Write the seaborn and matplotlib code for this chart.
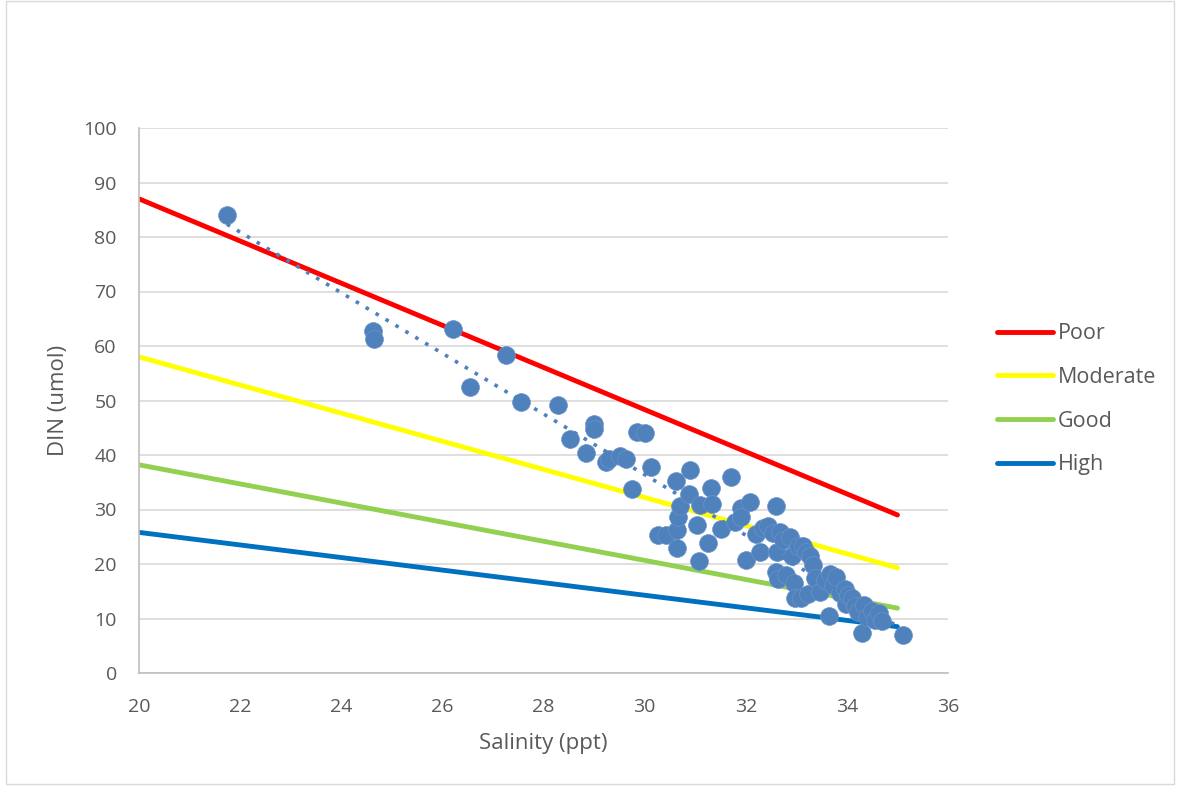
import numpy as np
import pandas as pd
import matplotlib
matplotlib.use("Agg")
import matplotlib.pyplot as plt
import seaborn as sns

salinity = [21.74, 24.63, 24.65, 26.21, 26.55, 27.26, 27.56, 28.29, 28.52, 28.84,
            29.00, 29.00, 29.24, 29.30, 29.51, 29.63, 29.75, 29.85, 30.01, 30.13,
            30.27, 30.42, 30.62, 30.64, 30.64, 30.66, 30.70, 30.88, 30.90, 31.04,
            31.08, 31.10, 31.25, 31.31, 31.33, 31.51, 31.71, 31.79, 31.90, 31.90,
            32.00, 32.08, 32.20, 32.28, 32.34, 32.44, 32.54, 32.60, 32.62, 32.60,
            32.64, 32.68, 32.74, 32.80, 32.88, 32.92, 32.96, 32.98, 33.03, 33.09,
            33.13, 33.19, 33.27, 33.33, 33.23, 33.37, 33.47, 33.57, 33.65, 33.67,
            33.73, 33.79, 33.86, 33.96, 33.98, 34.02, 34.10, 34.16, 34.22, 34.30,
            34.34, 34.40, 34.50, 34.56, 34.64, 34.70, 35.11]
din = [84.0, 62.7, 61.3, 63.1, 52.5, 58.3, 49.7, 49.2, 42.9, 40.4,
       45.7, 44.8, 38.7, 39.3, 39.8, 39.3, 33.8, 44.2, 44.0, 37.8,
       25.3, 25.3, 35.2, 22.9, 26.2, 28.6, 30.6, 32.8, 37.2, 27.2,
       20.6, 30.8, 23.9, 33.9, 31.0, 26.4, 36.0, 27.7, 30.3, 28.6,
       20.7, 31.4, 25.5, 22.2, 26.6, 27.0, 25.7, 30.6, 22.2, 18.5,
       17.2, 25.9, 24.4, 18.0, 25.0, 21.5, 16.5, 13.8, 23.3, 13.8,
       23.3, 22.2, 21.5, 19.8, 14.5, 17.4, 14.9, 17.1, 10.5, 18.2,
       16.1, 17.6, 14.7, 15.4, 12.7, 14.3, 13.8, 12.3, 11.2, 7.3,
       12.5, 10.3, 11.4, 9.7, 11.0, 9.5, 7.0]

line_x = [20, 35]
poor = [87.0, 29.0]
moderate = [58.0, 19.3]
good = [38.2, 11.9]
high = [25.8, 8.5]

categories = ["Poor", "Moderate", "Good", "High"]
cat_colors = ["#FF0000", "#FFFF00", "#92D050", "#0070C0"]

sns.set_theme(style="white")
plt.rcParams['font.family'] = ['Open Sans', 'DejaVu Sans']

fig = plt.figure(figsize=(11.78, 7.87), dpi=100)
ax = fig.add_axes([139/1178, 1 - 673/787, (948-139)/1178, (673-128)/787])

lines_df = pd.DataFrame({
    "x": line_x * 4,
    "y": poor + moderate + good + high,
    "cat": [c for c in categories for _ in line_x],
})
sns.lineplot(data=lines_df, x="x", y="y", hue="cat", palette=dict(zip(categories, cat_colors)),
             hue_order=categories, linewidth=3.5, ax=ax, zorder=2, legend=True)

pts = pd.DataFrame({"Salinity": salinity, "DIN": din})
sns.scatterplot(data=pts, x="Salinity", y="DIN", color="#4F81BD", s=165, edgecolor="#6A93C8",
                linewidth=0.5, ax=ax, zorder=4, legend=False)
sns.regplot(data=pts, x="Salinity", y="DIN", scatter=False, ci=None, ax=ax,
            line_kws=dict(color="#4F81BD", linestyle=(0, (1, 2.2)), linewidth=2.6, zorder=5))

ax.set_xlim(20, 36)
ax.set_ylim(0, 100)
ax.set_xticks(np.arange(20, 37, 2))
ax.set_yticks(np.arange(0, 101, 10))
ax.grid(axis="y", color="#D9D9D9", linewidth=1.2)
ax.set_axisbelow(True)
for s in ["top", "right"]:
    ax.spines[s].set_visible(False)
for s in ["bottom", "left"]:
    ax.spines[s].set_color("#BFBFBF")
    ax.spines[s].set_linewidth(1.2)
ax.tick_params(axis="both", colors="#595959", labelsize=14, length=0)
ax.tick_params(axis="y", pad=16)
ax.tick_params(axis="x", pad=18)
ax.set_xlabel("Salinity (ppt)", color="#595959", fontsize=16, labelpad=12)
ax.set_ylabel("DIN (umol)", color="#595959", fontsize=16, labelpad=10)

leg = ax.legend(loc="upper left", bbox_to_anchor=(978/1178, 1 - 304/787), bbox_transform=fig.transFigure,
                frameon=False, fontsize=15.5, labelspacing=1.05, handlelength=2.6, handletextpad=0.2,
                labelcolor="#595959")
for h in leg.get_lines():
    h.set_linewidth(3.5)

fig.patches.append(plt.Rectangle((6/1178, 3/787), 1168/1178, 783/787, transform=fig.transFigure,
                                 fill=False, edgecolor="#D9D9D9", linewidth=1))

fig.savefig("out.png", dpi=100)
